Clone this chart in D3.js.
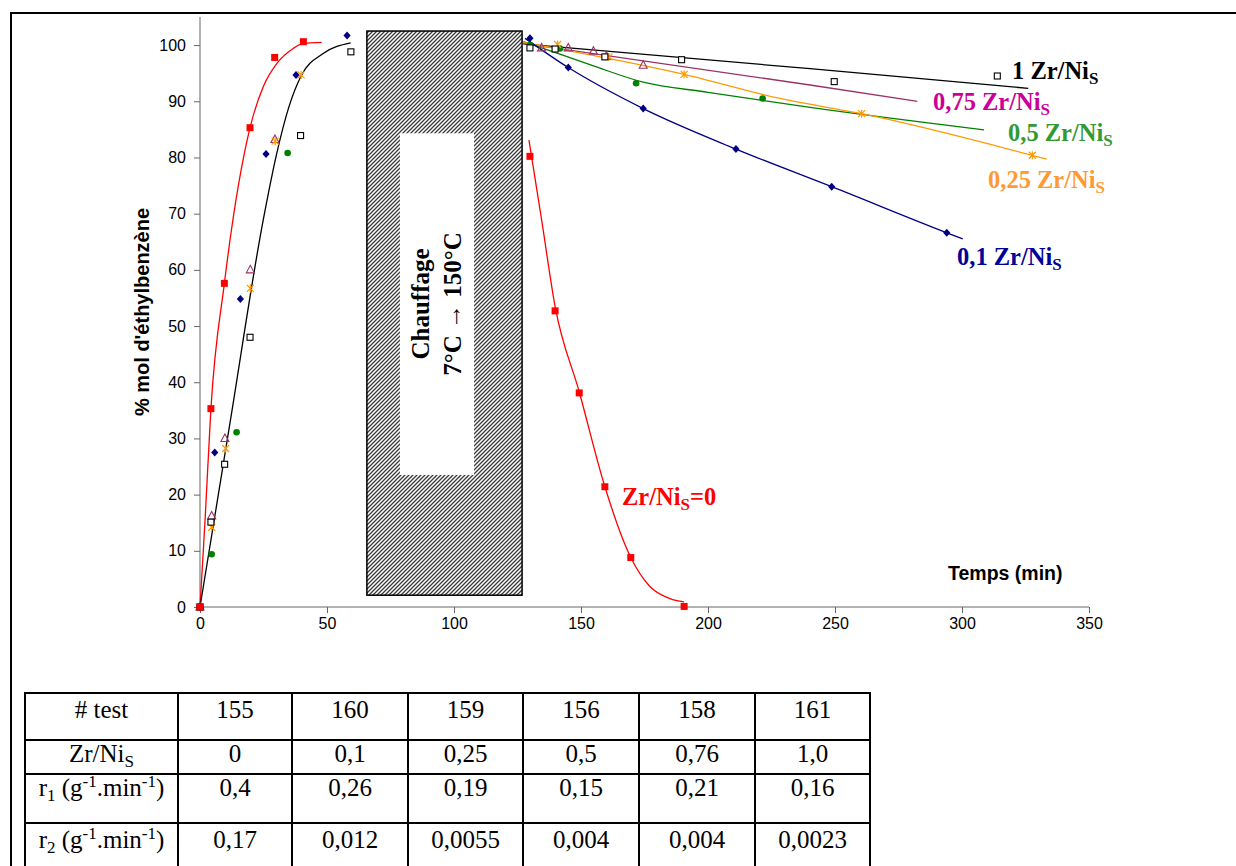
<!DOCTYPE html>
<html><head><meta charset="utf-8">
<script src="https://cdn.jsdelivr.net/npm/d3@7"></script>
<style>body{margin:0;background:#fff}svg{display:block}</style>
</head><body>
<svg id="chart" width="1236" height="866"></svg>
<script>
// ---------- DATA ----------
const xTicks = [0, 50, 100, 150, 200, 250, 300, 350];
const yTicks = [0, 10, 20, 30, 40, 50, 60, 70, 80, 90, 100];

// measured points, phase 1 (0-60 min, 7°C)
const red1    = [[0,0],[4.3,35.3],[9.6,57.6],[19.7,85.3],[29.4,97.8],[40.7,100.6]];
const blue1   = [[0,0],[5.8,27.5],[15.9,54.8],[26,80.6],[37.8,94.7],[57.9,101.7]];
const black1  = [[0,0],[4.3,15.1],[9.7,25.4],[19.7,48],[39.6,83.9],[59.4,98.8]];
const green1  = [[0,0],[4.6,9.4],[14.4,31.1],[34.5,80.8]];
const purple1 = [[0,0],[4.6,16.2],[9.8,30],[19.8,60],[29.5,83.2]];
const orange1 = [[0,0],[4.6,14.2],[10.1,28.2],[19.8,56.7],[29.6,82.9],[39.8,94.7]];

// measured points, phase 2 (after heating, 150°C)
const red2    = [[129.9,80.2],[139.8,52.7],[149.3,38.1],[159.4,21.4],[169.6,8.8],[190.6,0.1]];
const blue2   = [[129.9,101.2],[145,96],[174.5,88.7],[211,81.5],[248.7,74.8],[294,66.6]];
const green2  = [[130,100],[141.7,99.4],[171.7,93.2],[221.5,90.5]];
const orange2 = [[140.8,100.1],[161,97.9],[190.6,94.8],[260.5,87.8],[327.7,80.4]];
const purple2 = [[134.5,99.5],[145,99.5],[154.9,98.9],[160,98],[174.5,96.4]];
const black2  = [[129.9,99.5],[139.8,99.3],[159.4,97.9],[189.6,97.4],[249.7,93.5],[313.9,94.5]];

// fitted curves as drawn in the reference
const redFit1   = [[0,0],[2,15.5],[4.3,35.3],[9.6,57.6],[19.7,85.3],[24.9,92.6],[30.2,96.7],[36.7,99.4],[40.7,100.3],[47.9,100.5]];
const blackFit1 = [[0,0],[5.6,15.5],[12,33.3],[24.9,68.9],[30.2,80.7],[35,89],[39.8,94.5],[48.5,98.5],[59.3,100.4]];
const redFit2    = [[129.5,83.1],[134.5,68.9],[139.8,53.5],[149.3,38.3],[159.4,21.4],[169.6,8.8],[177.2,3.6],[185,1.5],[190.6,0.9]];
const blueFit2   = [[128,101.2],[145,96],[174.5,88.7],[211,81.5],[248.7,74.8],[294,66.6],[300.3,65.5]];
const greenFit2  = [[127.3,100.6],[141.7,98.4],[154.9,96.3],[174.5,93.4],[200,91.6],[240.2,88.9],[308.7,84.9]];
const orangeFit2 = [[127.3,100.5],[190.6,94.8],[228.3,90.5],[260.5,87.8],[333.3,79.7]];
const purpleFit2 = [[127.3,100.3],[240.2,92.9],[282.4,90.0]];
const blackFit2  = [[127.3,100.2],[240.2,95.8],[326.1,92.3]];

// heating zone (data units)
const heatZone  = [65.7, 126.8, 2.1, 102.5];
const heatBlank = [78.7, 107.9, 23.5, 84.3];

// table
const rowTest = ["155","160","159","156","158","161"];
const rowZr   = ["0","0,1","0,25","0,5","0,76","1,0"];
const rowR1   = ["0,4","0,26","0,19","0,15","0,21","0,16"];
const rowR2   = ["0,17","0,012","0,0055","0,004","0,004","0,0023"];

// ---------- DRAW ----------
const svg = d3.select("#chart");
const x = d3.scaleLinear().domain([0,350]).range([200,1089]);
const y = d3.scaleLinear().domain([0,105]).range([607,17]);
const serif = "'Liberation Serif','Times New Roman',serif";
const sans = "'Liberation Sans',Arial,sans-serif";

// outer frame
svg.append("rect").attr("x",11).attr("y",13).attr("width",1300).attr("height",900)
  .attr("fill","none").attr("stroke","#000").attr("stroke-width",2);

// hatch pattern
const defs = svg.append("defs");
const pat = defs.append("pattern").attr("id","hatch").attr("width",4).attr("height",4)
  .attr("patternUnits","userSpaceOnUse");
pat.append("rect").attr("width",4).attr("height",4).attr("fill","#fff");
pat.append("path").attr("d","M-1,1 l2,-2 M0,4 l4,-4 M3,5 l2,-2")
  .attr("stroke","#3a3a3a").attr("stroke-width",1.3);

// heating zone
svg.append("rect")
  .attr("x",x(heatZone[0])).attr("y",y(heatZone[3]))
  .attr("width",x(heatZone[1])-x(heatZone[0])).attr("height",y(heatZone[2])-y(heatZone[3]))
  .attr("fill","url(#hatch)").attr("stroke","#000").attr("stroke-width",1.5);
svg.append("rect")
  .attr("x",x(heatBlank[0])).attr("y",y(heatBlank[3]))
  .attr("width",x(heatBlank[1])-x(heatBlank[0])).attr("height",y(heatBlank[2])-y(heatBlank[3]))
  .attr("fill","#fff");
svg.append("text").attr("transform","translate(429,304) rotate(-90)")
  .attr("text-anchor","middle").attr("font-family",serif).attr("font-weight","bold")
  .attr("font-size",25).text("Chauffage");
svg.append("text").attr("transform","translate(461,304) rotate(-90)")
  .attr("text-anchor","middle").attr("font-family",serif).attr("font-weight","bold")
  .attr("font-size",25).text("7°C  \u2192 150°C");

// axes
const axisColor = "#666";
const gx = svg.append("g").attr("transform","translate(0,607)")
  .call(d3.axisBottom(x).tickValues(xTicks).tickSize(6).tickSizeOuter(0).tickPadding(5));
const gy = svg.append("g").attr("transform","translate(200,0)")
  .call(d3.axisLeft(y).tickValues(yTicks).tickSize(6).tickSizeOuter(0).tickPadding(8));
[gx,gy].forEach(g=>{
  g.select(".domain").attr("stroke",axisColor);
  g.selectAll(".tick line").attr("stroke",axisColor);
  g.selectAll("text").attr("font-family",sans).attr("font-size",16).attr("fill","#000");
});
gy.select(".domain").attr("d",`M0,${y(0)}V${y(105)}`);
gx.select(".domain").attr("d",`M${x(0)},0H${x(350)}`);

// axis titles
svg.append("text").attr("transform","translate(149,312) rotate(-90)")
  .attr("text-anchor","middle").attr("font-family",sans).attr("font-weight","bold")
  .attr("font-size",20).text("% mol d'éthylbenzène");
svg.append("text").attr("x",948).attr("y",580)
  .attr("font-family",sans).attr("font-weight","bold").attr("font-size",19.5).text("Temps (min)");

// curves
const line = d3.line().x(d=>x(d[0])).y(d=>y(d[1])).curve(d3.curveMonotoneX);
const fits = [
  [blackFit2,"#000"],[purpleFit2,"#993366"],[greenFit2,"#008000"],[orangeFit2,"#FF9900"],
  [blueFit2,"#000080"],[redFit2,"#FF0000"],[redFit1,"#FF0000"],[blackFit1,"#000"]
];
fits.forEach(([d,c])=>svg.append("path").attr("d",line(d)).attr("fill","none")
  .attr("stroke",c).attr("stroke-width",1.3));

// markers
function markers(data, type, color){
  const g = svg.append("g");
  data.forEach(d=>{
    const px = x(d[0]), py = y(d[1]);
    if(type==="sqf") g.append("rect").attr("x",px-3.5).attr("y",py-3.5).attr("width",7).attr("height",7).attr("fill",color);
    else if(type==="dia") g.append("path").attr("d",`M${px},${py-4}L${px+3.6},${py}L${px},${py+4}L${px-3.6},${py}Z`).attr("fill",color);
    else if(type==="cir") g.append("circle").attr("cx",px).attr("cy",py).attr("r",3.3).attr("fill",color);
    else if(type==="sqo") g.append("rect").attr("x",px-3).attr("y",py-3).attr("width",6).attr("height",6).attr("fill","#fff").attr("stroke",color).attr("stroke-width",1.1);
    else if(type==="tri") g.append("path").attr("d",`M${px},${py-4.5}L${px+4},${py+3}L${px-4},${py+3}Z`).attr("fill","none").attr("stroke",color).attr("stroke-width",1.1);
    else if(type==="star") g.append("path").attr("d",`M${px-3.5},${py-3.5}L${px+3.5},${py+3.5}M${px-3.5},${py+3.5}L${px+3.5},${py-3.5}M${px},${py-4}L${px},${py+4}`).attr("stroke",color).attr("stroke-width",1.2);
  });
}
markers(green1,"cir","#008000"); markers(green2,"cir","#008000");
markers(purple1,"tri","#993366"); markers(purple2,"tri","#993366");
markers(orange1,"star","#FF9900"); markers(orange2,"star","#FF9900");
markers(black1,"sqo","#000"); markers(black2,"sqo","#000");
markers(blue1,"dia","#000080"); markers(blue2,"dia","#000080");
markers(red1,"sqf","#FF0000"); markers(red2,"sqf","#FF0000");

// series labels
function label(xp, yp, main, tail, color){
  const t = svg.append("text").attr("x",xp).attr("y",yp).attr("font-family",serif)
    .attr("font-weight","bold").attr("font-size",24.5).attr("fill",color);
  t.append("tspan").text(main);
  t.append("tspan").attr("font-size",17).attr("dy",5).text("S");
  if(tail) t.append("tspan").attr("dy",-5).text(tail);
}
label(1012,79,"1 Zr/Ni",null,"#000");
label(933,110,"0,75 Zr/Ni",null,"#CC0099");
label(1008,141,"0,5 Zr/Ni",null,"#339933");
label(988,188,"0,25 Zr/Ni",null,"#FF9933");
label(957,265,"0,1 Zr/Ni",null,"#000099");
label(622,505,"Zr/Ni","=0","#FF0000");

// table
const colX = [25,178,292,408,523,639,755,870];
const rowY = [693,740,774,823,872];
const tb = svg.append("g");
colX.forEach(cx=>tb.append("line").attr("x1",cx).attr("x2",cx).attr("y1",rowY[0]).attr("y2",rowY[4]).attr("stroke","#000").attr("stroke-width",2));
rowY.forEach(ry=>tb.append("line").attr("x1",colX[0]-1).attr("x2",colX[7]+1).attr("y1",ry).attr("y2",ry).attr("stroke","#000").attr("stroke-width",2));
const baseY = [718,762,796,848];
const rows = [rowTest,rowZr,rowR1,rowR2];
rows.forEach((r,i)=>r.forEach((v,j)=>{
  tb.append("text").attr("x",(colX[j+1]+colX[j+2])/2).attr("y",baseY[i])
    .attr("text-anchor","middle").attr("font-family",serif).attr("font-size",25).text(v);
}));
function rich(yb, parts){
  const t = tb.append("text").attr("x",(colX[0]+colX[1])/2).attr("y",yb)
    .attr("text-anchor","middle").attr("font-family",serif).attr("font-size",25);
  parts.forEach(([s,mode])=>{
    const sp = t.append("tspan").text(s);
    if(mode==="sub") sp.attr("font-size",17).attr("dy",5);
    else if(mode==="sup") sp.attr("font-size",17).attr("dy",-9);
    else if(mode==="back5") sp.attr("dy",-5);
    else if(mode==="back9") sp.attr("dy",9);
  });
}
rich(baseY[0],[["# test"]]);
rich(baseY[1],[["Zr/Ni"],["S","sub"]]);
rich(baseY[2],[["r"],["1","sub"],[" (g","back5"],["-1","sup"],[".min","back9"],["-1","sup"],[")","back9"]]);
rich(baseY[3],[["r"],["2","sub"],[" (g","back5"],["-1","sup"],[".min","back9"],["-1","sup"],[")","back9"]]);
</script>
</body></html>
